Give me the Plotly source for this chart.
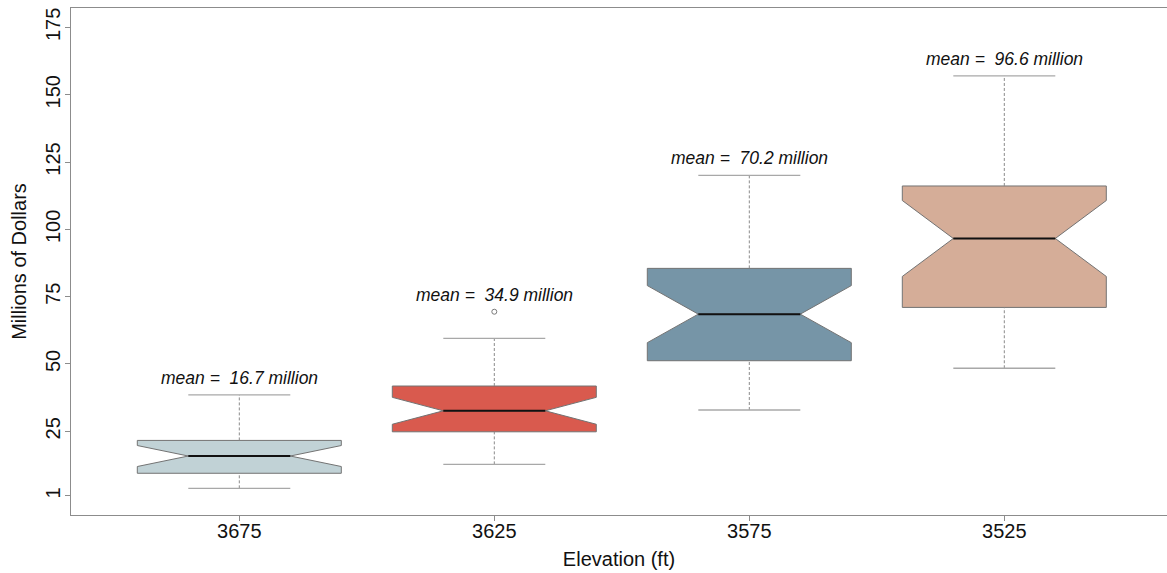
import plotly.graph_objects as go

# Reservoir elevation groups and their value summaries (millions of dollars)
elevations = ["3675", "3625", "3575", "3525"]
positions = [1, 2, 3, 4]
q1 = [9.4, 24.8, 51.2, 71.0]
medians = [15.8, 32.6, 68.5, 96.6]
q3 = [21.6, 41.8, 85.5, 116.1]
notch_half = [3.9, 5.0, 10.6, 14.1]
whisker_low = [3.8, 12.7, 32.9, 48.4]
whisker_high = [38.5, 59.5, 120.0, 157.0]
means = [16.7, 34.9, 70.2, 96.6]
outlier_pos = [2]
outlier_vals = [69.4]
fills = ["#c1d2d6", "#d95a4e", "#7695a7", "#d5ad98"]
y_ticks = [1, 25, 50, 75, 100, 125, 150, 175]

FONT = "Liberation Sans, Arial, Helvetica, sans-serif"
BOX_W = 0.8
INNER = 0.2  # half width of notch waist / staple

fig = go.Figure()

# dashed whiskers and solid staples
for p, lo, hi, a, b in zip(positions, whisker_low, whisker_high, q1, q3):
    fig.add_trace(go.Scatter(x=[p, p, None, p, p], y=[lo, a, None, b, hi], mode="lines",
                             line=dict(color="#8a8a8a", width=1, dash="3px,2px"),
                             hoverinfo="skip", showlegend=False))
    fig.add_trace(go.Scatter(x=[p - INNER, p + INNER, None, p - INNER, p + INNER],
                             y=[lo, lo, None, hi, hi], mode="lines",
                             line=dict(color="#a8a8a8", width=1.3),
                             hoverinfo="skip", showlegend=False))

# notched boxes
for p, a, m, b, n, c in zip(positions, q1, medians, q3, notch_half, fills):
    fig.add_trace(go.Box(x=[p], q1=[a], median=[m], q3=[b], lowerfence=[a], upperfence=[b],
                         notchspan=[n], notched=True, notchwidth=0.25, width=BOX_W,
                         whiskerwidth=0, fillcolor=c, line=dict(color="#737373", width=1),
                         boxpoints=False, hoverinfo="skip", showlegend=False))
    fig.add_trace(go.Scatter(x=[p - INNER, p + INNER], y=[m, m], mode="lines",
                             line=dict(color="#111111", width=2),
                             hoverinfo="skip", showlegend=False))

# outliers
fig.add_trace(go.Scatter(x=outlier_pos, y=outlier_vals, mode="markers",
                         marker=dict(symbol="circle-open", size=5, color="#7a7a7a",
                                     line=dict(width=1)),
                         hoverinfo="skip", showlegend=False))

# mean labels above each group's highest point
tops = []
for i, p in enumerate(positions):
    top = whisker_high[i]
    for op, ov in zip(outlier_pos, outlier_vals):
        if op == p:
            top = max(top, ov)
    tops.append(top)
for p, t, mu in zip(positions, tops, means):
    fig.add_annotation(x=p, y=t, text=f"<i>mean =  {mu} million</i>", showarrow=False,
                       yanchor="middle", yshift=17,
                       font=dict(family=FONT, size=17.5, color="#111111"))

fig.update_layout(
    width=1167, height=573,
    margin=dict(l=71, r=0, t=8, b=58),
    paper_bgcolor="white", plot_bgcolor="white",
    boxmode="overlay",
    font=dict(family=FONT, color="#111111"),
    xaxis=dict(range=[0.34, 4.638], tickmode="array", tickvals=positions, ticktext=elevations,
               showgrid=False, zeroline=False, showline=True, linecolor="#8c8c8c", linewidth=1,
               mirror=True, ticks="outside", ticklen=5, tickcolor="#8c8c8c",
               ticklabelstandoff=-7,
               tickfont=dict(family=FONT, size=20, color="#111111"),
               title=dict(text="Elevation (ft)", font=dict(family=FONT, size=20, color="#111111"),
                          standoff=10)),
    yaxis=dict(range=[-6.1, 182.2], tickmode="array", tickvals=y_ticks,
               showgrid=False, zeroline=False, showline=True, linecolor="#8c8c8c", linewidth=1,
               ticks="outside", ticklen=5, tickcolor="#8c8c8c", tickangle=-90,
               ticklabelstandoff=-3,
               tickfont=dict(family=FONT, size=20, color="#111111"),
               title=dict(text="Millions of Dollars", font=dict(family=FONT, size=20, color="#111111"),
                          standoff=10)),
)

fig.write_html("out.html")
